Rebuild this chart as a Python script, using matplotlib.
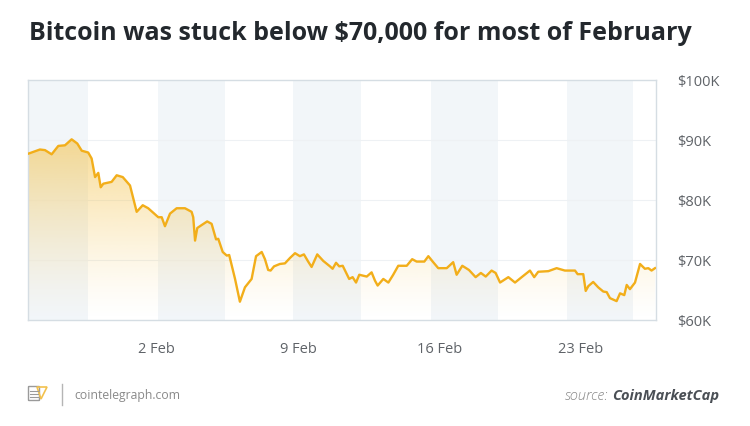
import matplotlib
matplotlib.use("Agg")
import matplotlib.pyplot as plt
import numpy as np
from matplotlib.patches import Polygon, FancyBboxPatch

# Preço do BTC (milhares de USD), dia de fevereiro (valores negativos = janeiro)
days = [-4.36, -3.78, -3.53, -3.20, -2.87, -2.54, -2.21, -1.93, -1.71, -1.39,
        -1.22, -1.05, -0.89, -0.77, -0.64, -0.23, 0.02, 0.32, 0.68, 1.01,
        1.31, 1.58, 2.08, 2.25, 2.41, 2.66, 2.99, 3.40, 3.73, 3.81,
        3.90, 4.01, 4.23, 4.50, 4.72, 4.94, 5.05, 5.27, 5.47, 5.59,
        5.88, 6.12, 6.37, 6.70, 6.92, 7.20, 7.36, 7.52, 7.64, 7.81,
        8.10, 8.35, 8.60, 8.85, 9.09, 9.29, 9.50, 9.67, 9.95, 10.25,
        10.58, 10.71, 10.88, 11.04, 11.21, 11.53, 11.70, 11.87, 12.03, 12.40,
        12.64, 12.81, 12.94, 13.22, 13.47, 13.71, 13.96, 14.38, 14.65, 14.87,
        15.25, 15.45, 15.69, 15.94, 16.36, 16.68, 16.85, 17.13, 17.46, 17.79,
        18.05, 18.29, 18.58, 18.78, 19.00, 19.41, 19.74, 20.07, 20.48, 20.69,
        20.89, 21.39, 21.80, 22.21, 22.71, 22.84, 23.12, 23.24, 23.37, 23.61,
        23.86, 24.11, 24.28, 24.44, 24.77, 24.94, 25.15, 25.27, 25.43, 25.68,
        25.93, 26.17, 26.34, 26.50, 26.67]
price_k = [87.7, 88.4, 88.3, 87.6, 89.0, 89.1, 90.1, 89.4, 88.2, 87.9,
           86.9, 83.8, 84.5, 82.1, 82.7, 83.0, 84.1, 83.8, 82.4, 78.0,
           79.1, 78.6, 77.1, 77.1, 75.6, 77.7, 78.6, 78.6, 78.0, 77.1,
           73.2, 75.3, 75.8, 76.4, 76.0, 73.4, 73.5, 71.3, 70.7, 70.8,
           66.8, 63.0, 65.4, 66.8, 70.6, 71.3, 70.1, 68.3, 68.2, 68.9,
           69.3, 69.4, 70.3, 71.1, 70.6, 70.9, 69.7, 68.8, 70.9, 69.8,
           68.9, 68.5, 69.5, 68.9, 69.0, 66.8, 67.1, 66.2, 67.5, 67.2,
           67.9, 66.5, 65.7, 66.8, 66.2, 67.5, 69.0, 69.0, 70.1, 69.7,
           69.7, 70.6, 69.6, 68.6, 68.6, 69.6, 67.5, 69.0, 68.3, 67.1,
           67.8, 67.2, 68.2, 67.8, 66.2, 67.1, 66.2, 67.1, 68.2, 67.1,
           68.0, 68.1, 68.6, 68.2, 68.2, 67.6, 67.6, 64.8, 65.6, 66.3,
           65.4, 64.7, 64.6, 63.6, 63.1, 64.4, 64.1, 65.8, 65.1, 66.2,
           69.3, 68.5, 68.6, 68.2, 68.6]

# Faixas sombreadas ao fundo (início, fim)
band_starts = [-4.37, 2.06, 8.75, 15.58, 22.31]
band_ends = [-1.40, 5.38, 12.11, 18.90, 25.58]

tick_days = [2, 9, 16, 23]
tick_labels = ['2 Feb', '9 Feb', '16 Feb', '23 Feb']
y_ticks = [60, 70, 80, 90, 100]
y_labels = ['$60K', '$70K', '$80K', '$90K', '$100K']

LINE = '#F2AE1A'
GRAY = '#5f6368'

plt.rcParams['font.family'] = ['Open Sans', 'DejaVu Sans']
fig = plt.figure(figsize=(7.5, 4.27), dpi=100)
ax = fig.add_axes([28 / 750, 1 - 320.7 / 427, 628 / 750, 239.7 / 427])

x0, x1 = -4.37, 26.72
ax.set_xlim(x0, x1)
ax.set_ylim(60, 100)

for s, e in zip(band_starts, band_ends):
    ax.axvspan(s, e, color='#f2f6f9', zorder=0, lw=0)

for yv in [70, 80, 90]:
    ax.axhline(yv, color='#eef1f4', lw=0.8, zorder=1)

# Preenchimento em degradê sob a linha
grad = np.zeros((256, 1, 4))
rgb = matplotlib.colors.to_rgb('#F4C24A')
grad[..., 0], grad[..., 1], grad[..., 2] = rgb
grad[:, 0, 3] = np.linspace(0.0, 0.68, 256) ** 1.3
img = ax.imshow(grad, extent=[x0, x1, 60, 91], origin='lower', aspect='auto', zorder=2)
verts = list(zip(days, price_k)) + [(days[-1], 60), (days[0], 60)]
poly = Polygon(verts, closed=True, transform=ax.transData, facecolor='none', edgecolor='none')
ax.add_patch(poly)
img.set_clip_path(poly)

ax.plot(days, price_k, color=LINE, lw=1.7, zorder=3, solid_joinstyle='round')

for sp in ax.spines.values():
    sp.set_color('#d5dde3')
    sp.set_linewidth(1.0)

ax.yaxis.tick_right()
ax.set_yticks(y_ticks)
ax.set_yticklabels(y_labels)
ax.set_xticks(tick_days)
ax.set_xticklabels(tick_labels)
ax.tick_params(axis='y', length=0, pad=15, labelsize=10.5, labelcolor=GRAY)
ax.tick_params(axis='x', length=0, pad=15, labelsize=10.5, labelcolor=GRAY)

fig.text(29 / 750, 1 - 33.5 / 427, 'Bitcoin was stuck below $70,000 for most of February',
         fontsize=18, fontweight='bold', color='#23282d', va='center', ha='left')

# Rodapé
lax = fig.add_axes([26 / 750, 1 - 404 / 427, 24 / 750, 20 / 427])
lax.set_xlim(0, 24)
lax.set_ylim(0, 20)
lax.axis('off')
lax.add_patch(FancyBboxPatch((3, 3), 10, 13, boxstyle='round,pad=0.5', fc='none', ec='#9a9a9a', lw=1))
for yy in [6, 9, 12]:
    lax.plot([4, 12], [yy, yy], color='#9a9a9a', lw=0.8)
lax.add_patch(Polygon([(11, 16), (21, 16), (15, 4)], closed=True, fc='none', ec='#F2C14E', lw=1.2))

fig.add_artist(plt.Line2D([61.7 / 750, 61.7 / 750], [1 - 406 / 427, 1 - 385 / 427], color='#b5b5b5', lw=1))
fig.text(74 / 750, 1 - 395.5 / 427, 'cointelegraph.com', fontsize=8.8, color='#8a8a8a',
         va='center', ha='left')

t = fig.text(719 / 750, 1 - 396.5 / 427, 'CoinMarketCap', fontsize=10.5, fontweight='bold',
             style='italic', color='#4a4f55', va='center', ha='right')
fig.canvas.draw()
bb = t.get_window_extent()
fig.text((bb.x0 - 3) / 750, 1 - 396.5 / 427, 'source:', fontsize=10.5, style='italic',
         color='#8a8a8a', va='center', ha='right', fontweight='light')

fig.savefig('out.png', dpi=100, facecolor='white')
